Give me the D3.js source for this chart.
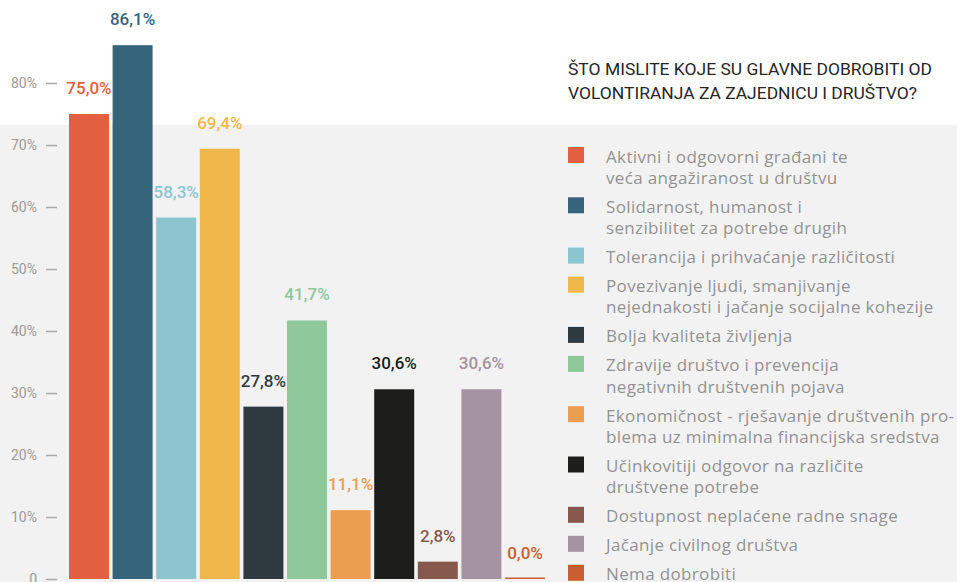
<!DOCTYPE html>
<html>
<head>
<meta charset="utf-8">
<script src="https://cdn.jsdelivr.net/npm/d3@7"></script>
<style>
  html, body { margin: 0; padding: 0; background: #fff; }
  svg { display: block; }
</style>
</head>
<body>
<svg id="chart"></svg>
<script>
// podaci
const categories = [
  ["Aktivni i odgovorni građani te", "veća angažiranost u društvu"],
  ["Solidarnost, humanost i", "senzibilitet za potrebe drugih"],
  ["Tolerancija i prihvaćanje različitosti"],
  ["Povezivanje ljudi, smanjivanje", "nejednakosti i jačanje socijalne kohezije"],
  ["Bolja kvaliteta življenja"],
  ["Zdravije društvo i prevencija", "negativnih društvenih pojava"],
  ["Ekonomičnost - rješavanje društvenih pro-", "blema uz minimalna financijska sredstva"],
  ["Učinkovitiji odgovor na različite", "društvene potrebe"],
  ["Dostupnost neplaćene radne snage"],
  ["Jačanje civilnog društva"],
  ["Nema dobrobiti"]
];
const values = [75.0, 86.1, 58.3, 69.4, 27.8, 41.7, 11.1, 30.6, 2.8, 30.6, 0.0];
const colors = ["#e2603f", "#35647b", "#8cc4cf", "#f0b74b", "#2e3a40", "#8ec799",
                "#eb9e50", "#1d1d1b", "#87584c", "#a592a2", "#c95f31"];
const tickValues = [0, 10, 20, 30, 40, 50, 60, 70, 80];
const tickLabels = ["0", "10%", "20%", "30%", "40%", "50%", "60%", "70%", "80%"];
const title = ["ŠTO MISLITE KOJE SU GLAVNE DOBROBITI OD", "VOLONTIRANJA ZA ZAJEDNICU I DRUŠTVO?"];

const width = 957, height = 582;
const svg = d3.select("#chart").attr("width", width).attr("height", height);

// sivo polje
svg.append("rect")
  .attr("x", 0).attr("y", 125)
  .attr("width", width).attr("height", height - 125)
  .attr("fill", "#f2f2f2");

const x = d3.scaleBand()
  .domain(d3.range(values.length))
  .range([69, 545])
  .paddingInner(0.083)
  .paddingOuter(0);

const y = d3.scaleLinear()
  .domain([0, 80])
  .range([579, 83]);

// os y
const yAxis = svg.append("g")
  .attr("transform", "translate(57,0)")
  .call(d3.axisLeft(y)
    .tickValues(tickValues)
    .tickFormat((d, i) => tickLabels[i])
    .tickSize(11)
    .tickPadding(9));
yAxis.select(".domain").remove();
yAxis.selectAll(".tick line").attr("stroke", "#a8a8a8").attr("stroke-width", 1.5);
yAxis.selectAll(".tick text")
  .attr("fill", "#9a9a9a")
  .attr("font-family", "Roboto")
  .attr("font-size", 14);

// stupci
svg.append("g")
  .selectAll("rect")
  .data(values)
  .join("rect")
  .attr("x", (d, i) => x(i))
  .attr("width", x.bandwidth())
  .attr("y", d => Math.min(y(d), y(0) - 1.5))
  .attr("height", d => Math.max(y(0) - y(d), 1.5))
  .attr("fill", (d, i) => colors[i]);

// vrijednosti
svg.append("g")
  .selectAll("text")
  .data(values)
  .join("text")
  .attr("x", (d, i) => x(i) + x.bandwidth() / 2)
  .attr("y", d => y(d) - 20)
  .attr("text-anchor", "middle")
  .attr("font-family", "Roboto")
  .attr("font-weight", 500)
  .attr("font-size", 17)
  .attr("fill", (d, i) => colors[i])
  .text(d => d.toFixed(1).replace(".", ",") + "%");

// naslov
const titleWidths = [364, 349];
svg.append("g")
  .selectAll("text")
  .data(title)
  .join("text")
  .attr("x", 568)
  .attr("y", (d, i) => 75 + i * 24)
  .attr("font-family", "Roboto")
  .attr("font-size", 17)
  .attr("fill", "#262626")
  .attr("textLength", (d, i) => titleWidths[i])
  .attr("lengthAdjust", "spacingAndGlyphs")
  .text(d => d);

// legenda
const lineH = 21.3, gap = 7.7;
let legendY = 147;
const legend = svg.append("g");
categories.forEach((lines, i) => {
  const item = legend.append("g").attr("transform", `translate(568,${legendY})`);
  item.append("rect")
    .attr("width", 16).attr("height", 16)
    .attr("fill", colors[i]);
  item.selectAll("text")
    .data(lines)
    .join("text")
    .attr("x", 38)
    .attr("y", (d, j) => 15.5 + j * lineH)
    .attr("font-family", "Open Sans")
    .attr("font-size", 17)
    .attr("letter-spacing", 0.35)
    .attr("fill", "#929292")
    .text(d => d);
  legendY += lines.length * lineH + gap;
});
</script>
</body>
</html>
